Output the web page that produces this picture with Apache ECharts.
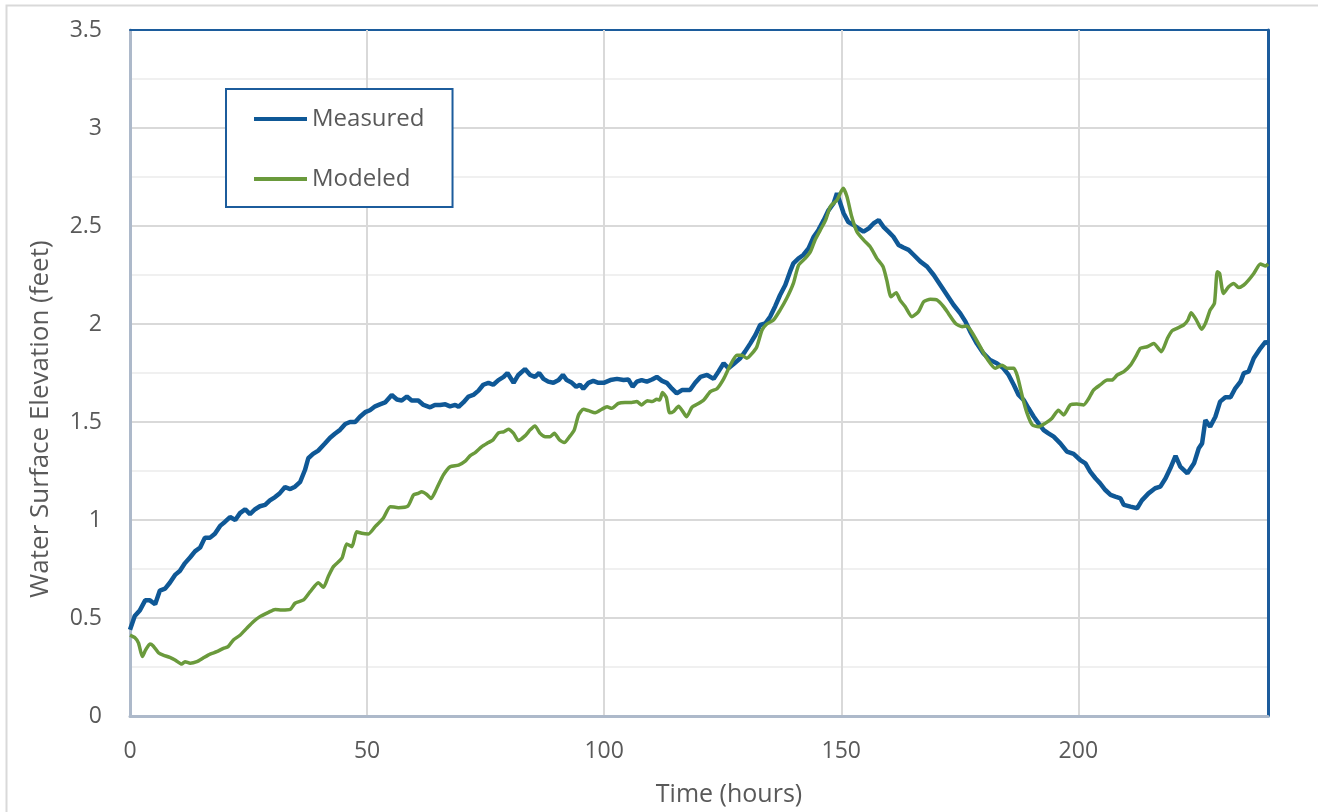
<!DOCTYPE html>
<html>
<head>
<meta charset="utf-8">
<script src="https://cdn.jsdelivr.net/npm/echarts@6/dist/echarts.min.js"></script>
<style>
  html, body { margin: 0; padding: 0; background: #fff; }
  #chart { width: 1318px; height: 812px; }
</style>
</head>
<body>
<div id="chart"></div>
<script>
// values (hours, feet)
const measuredHours = [0, 1, 2.1, 3.2, 4.2, 5.3, 6.3, 7.4, 8.4, 9.5, 10.5, 11.6, 12.7, 13.7, 14.8, 15.8, 16.9, 17.9, 19, 20, 21.1, 22.2, 23.2, 24.3, 25.3, 26.4, 27.4, 28.5, 29.5, 30.6, 31.6, 32.7, 33.8, 34.8, 35.9, 36.9, 37.6, 38.6, 39.7, 41.1, 42.2, 43.2, 44.3, 45.4, 46.4, 47.5, 48.5, 49.6, 50.6, 51.7, 52.7, 53.8, 55.2, 56.3, 57.3, 58.4, 59.4, 60.8, 61.9, 63.3, 64.3, 65.4, 66.5, 67.5, 68.6, 69.3, 70.3, 71.4, 72.4, 73.5, 74.5, 75.6, 76.6, 77.7, 78.8, 79.6, 80.9, 81.9, 83.3, 84.4, 85.4, 86.3, 87.2, 88.2, 89.3, 90.4, 91.3, 92.1, 93.2, 94.1, 94.9, 95.6, 96.7, 97.7, 98.8, 99.9, 101.3, 102.7, 104.1, 105.1, 106, 106.9, 107.9, 109, 110.1, 111.1, 112.2, 113.2, 114.3, 115.3, 116.4, 118.1, 119.2, 120.3, 121.7, 123.1, 124.1, 125.2, 126.2, 127.3, 128.7, 129.7, 130.8, 131.9, 132.9, 134, 135, 136.1, 137.1, 138.2, 139.2, 139.9, 141, 142, 143.1, 144.2, 145.2, 146.3, 147.3, 148.4, 149.1, 149.8, 150.5, 151.5, 152.6, 153.6, 154.7, 155.8, 156.8, 157.9, 158.9, 160, 161, 162.1, 163.1, 164.2, 165.3, 166.7, 168.1, 169.5, 170.9, 172.3, 173.7, 175.1, 176.2, 177.2, 178.6, 180, 181.4, 182.8, 184.2, 185.3, 186.4, 187.4, 188.5, 189.5, 190.6, 191.6, 192.7, 193.7, 194.8, 196.2, 197.6, 199, 200.4, 201.5, 202.5, 203.6, 204.6, 205.7, 206.8, 207.8, 208.9, 209.6, 211, 212.4, 213.4, 214.8, 216.2, 217.3, 218.4, 219.4, 220.5, 221.5, 223, 224.4, 225.4, 226.1, 226.8, 227.8, 228.9, 229.9, 231, 232.1, 233.1, 234.2, 234.9, 235.9, 237, 238.4, 239.5, 240];
const measuredFeet = [0.44, 0.51, 0.54, 0.59, 0.59, 0.57, 0.64, 0.65, 0.68, 0.72, 0.74, 0.78, 0.81, 0.84, 0.86, 0.91, 0.91, 0.93, 0.97, 0.99, 1.015, 1.0, 1.035, 1.055, 1.03, 1.055, 1.07, 1.077, 1.1, 1.117, 1.137, 1.168, 1.158, 1.17, 1.195, 1.255, 1.315, 1.337, 1.354, 1.39, 1.42, 1.44, 1.46, 1.49, 1.5, 1.5, 1.527, 1.55, 1.56, 1.58, 1.59, 1.6, 1.638, 1.615, 1.61, 1.63, 1.61, 1.61, 1.587, 1.575, 1.587, 1.587, 1.59, 1.58, 1.587, 1.578, 1.6, 1.63, 1.638, 1.66, 1.69, 1.7, 1.69, 1.714, 1.73, 1.75, 1.7, 1.74, 1.77, 1.74, 1.73, 1.75, 1.72, 1.706, 1.7, 1.714, 1.74, 1.714, 1.7, 1.68, 1.69, 1.67, 1.7, 1.71, 1.7, 1.7, 1.714, 1.72, 1.714, 1.717, 1.68, 1.706, 1.714, 1.706, 1.717, 1.73, 1.71, 1.7, 1.67, 1.646, 1.663, 1.663, 1.7, 1.73, 1.74, 1.72, 1.757, 1.8, 1.774, 1.796, 1.825, 1.859, 1.9, 1.944, 1.995, 2.003, 2.037, 2.092, 2.148, 2.199, 2.267, 2.309, 2.335, 2.352, 2.386, 2.445, 2.48, 2.53, 2.58, 2.616, 2.667, 2.616, 2.565, 2.52, 2.505, 2.488, 2.471, 2.488, 2.513, 2.53, 2.496, 2.47, 2.445, 2.403, 2.39, 2.378, 2.352, 2.318, 2.293, 2.25, 2.199, 2.148, 2.097, 2.054, 2.012, 1.961, 1.9, 1.85, 1.816, 1.8, 1.774, 1.74, 1.689, 1.638, 1.612, 1.57, 1.527, 1.493, 1.459, 1.442, 1.425, 1.391, 1.349, 1.337, 1.306, 1.289, 1.247, 1.213, 1.187, 1.153, 1.128, 1.119, 1.11, 1.077, 1.068, 1.06, 1.1, 1.136, 1.162, 1.17, 1.213, 1.264, 1.327, 1.272, 1.238, 1.289, 1.366, 1.391, 1.51, 1.476, 1.527, 1.604, 1.626, 1.626, 1.672, 1.706, 1.749, 1.757, 1.825, 1.876, 1.91, 1.9];

const modeledHours = [0, 1, 1.8, 2.6, 3.3, 4.2, 4.9, 6, 7, 8.4, 9.5, 10.9, 11.6, 12.7, 14.1, 15.5, 16.9, 18.3, 19.7, 20.7, 21.8, 23.2, 24.6, 26, 27.4, 29.2, 30.6, 32, 33.8, 34.8, 36.6, 38, 39.7, 40.8, 41.8, 42.9, 44.7, 45.7, 46.8, 47.8, 48.9, 50.3, 51.7, 53.4, 54.9, 56.6, 58.6, 59.8, 60.8, 61.5, 62.6, 63.5, 64.7, 66.1, 67.5, 69.3, 70.7, 71.7, 72.8, 74.2, 75.6, 76.6, 77.7, 78.8, 79.8, 80.9, 81.9, 83.3, 84.4, 85.4, 86.5, 87.6, 88.6, 89.5, 90.6, 91.6, 92.7, 93.7, 94.6, 95.6, 96.7, 98.1, 99.5, 100.6, 101.6, 103, 104.4, 105.8, 106.9, 107.9, 109.1, 110.1, 111.1, 111.7, 112.3, 113.1, 113.8, 114.6, 115.7, 116.6, 117.4, 118.5, 119.6, 121, 122.4, 123.8, 125.2, 126.6, 128, 129, 130.1, 131.2, 132.2, 133.3, 134.3, 135.7, 137.1, 138.5, 139.9, 141, 142.4, 143.5, 144.5, 145.6, 146.7, 147.7, 149.1, 150.4, 151.2, 152.2, 153.3, 154.7, 156.1, 157.5, 158.8, 159.6, 160.5, 161.6, 162.4, 163.5, 164.9, 166.3, 167.4, 168.8, 170.2, 171.6, 172.6, 174.1, 175.5, 176.5, 177.9, 179.3, 180.7, 182.5, 183.9, 185, 186.4, 187.2, 188.2, 189.2, 190.3, 191.6, 193, 194.4, 195.8, 196.9, 198.3, 199.7, 201.1, 202.2, 203.2, 204.6, 206.1, 207.1, 208.2, 209.6, 211, 212.1, 213.1, 214.5, 215.9, 217.5, 218.8, 219.8, 220.8, 222.2, 223.1, 223.8, 224.9, 226, 226.8, 227.8, 228.7, 229.3, 229.8, 230.6, 231.7, 232.8, 233.8, 234.9, 235.9, 237, 238.4, 239.5, 240];
const modeledFeet = [0.413, 0.4, 0.372, 0.303, 0.337, 0.367, 0.357, 0.323, 0.311, 0.299, 0.286, 0.265, 0.277, 0.269, 0.277, 0.297, 0.316, 0.328, 0.345, 0.354, 0.388, 0.412, 0.447, 0.481, 0.507, 0.529, 0.544, 0.541, 0.544, 0.575, 0.592, 0.634, 0.68, 0.657, 0.711, 0.762, 0.805, 0.878, 0.864, 0.94, 0.932, 0.929, 0.966, 1.009, 1.068, 1.063, 1.071, 1.128, 1.136, 1.144, 1.13, 1.11, 1.162, 1.23, 1.272, 1.28, 1.3, 1.327, 1.344, 1.374, 1.395, 1.41, 1.445, 1.45, 1.463, 1.442, 1.405, 1.429, 1.46, 1.48, 1.442, 1.425, 1.425, 1.442, 1.408, 1.395, 1.425, 1.46, 1.536, 1.565, 1.558, 1.547, 1.565, 1.578, 1.57, 1.595, 1.6, 1.6, 1.604, 1.587, 1.609, 1.604, 1.616, 1.612, 1.65, 1.626, 1.547, 1.553, 1.58, 1.553, 1.527, 1.575, 1.59, 1.612, 1.655, 1.67, 1.72, 1.79, 1.84, 1.84, 1.825, 1.85, 1.884, 1.969, 2.0, 2.02, 2.071, 2.131, 2.207, 2.3, 2.335, 2.369, 2.43, 2.48, 2.53, 2.599, 2.633, 2.692, 2.65, 2.548, 2.471, 2.429, 2.394, 2.335, 2.293, 2.224, 2.139, 2.16, 2.122, 2.088, 2.037, 2.063, 2.114, 2.126, 2.122, 2.088, 2.054, 2.003, 1.986, 1.99, 1.944, 1.884, 1.825, 1.774, 1.79, 1.774, 1.774, 1.73, 1.629, 1.544, 1.485, 1.476, 1.493, 1.518, 1.56, 1.536, 1.587, 1.592, 1.587, 1.62, 1.663, 1.689, 1.714, 1.714, 1.74, 1.757, 1.79, 1.833, 1.876, 1.884, 1.9, 1.859, 1.927, 1.966, 1.978, 1.995, 2.02, 2.058, 2.02, 1.973, 2.003, 2.071, 2.105, 2.267, 2.258, 2.156, 2.19, 2.207, 2.186, 2.199, 2.224, 2.258, 2.306, 2.296, 2.306];

const seriesNames = ['Measured', 'Modeled'];
const xTicks = [0, 50, 100, 150, 200];

const toPairs = (xs, ys) => xs.map((x, i) => [x, ys[i]]);

const FONT = '"Open Sans", "Noto Sans", sans-serif';
const TEXT = '#595959';
const BLUE = '#0f5896';
const GREEN = '#6a9a3c';
const FRAME = '#1c5c9c';

const chart = echarts.init(document.getElementById('chart'), null, { renderer: 'canvas' });

chart.setOption({
  animation: false,
  backgroundColor: '#fff',
  textStyle: { fontFamily: FONT },
  graphic: [
    {
      type: 'rect',
      silent: true,
      z: -10,
      shape: { x: 6.5, y: 5.5, width: 1330, height: 830 },
      style: { fill: 'none', stroke: '#d9d9d9', lineWidth: 2 },
    },
  ],
  grid: {
    left: 130,
    right: 50,
    top: 30,
    bottom: 96,
    show: false,
  },
  legend: {
    left: 226,
    top: 89,
    orient: 'vertical',
    data: seriesNames.map((n) => ({ name: n, icon: 'rect' })),
    itemWidth: 53,
    itemHeight: 4,
    itemGap: 36,
    padding: [18, 28, 16, 28],
    borderColor: FRAME,
    borderWidth: 2,
    backgroundColor: '#fff',
    textStyle: { fontSize: 24, color: TEXT, fontFamily: FONT },
  },
  xAxis: [
    {
      type: 'value',
      min: 0,
      max: 240,
      interval: 50,
      name: 'Time (hours)',
      nameLocation: 'middle',
      nameGap: 66,
      nameTextStyle: { fontSize: 25, color: TEXT, fontFamily: FONT, padding: [0, 0, 0, 60] },
      axisLine: { show: true, onZero: false, lineStyle: { color: '#adb9ca', width: 3 } },
      axisTick: { show: false },
      axisLabel: {
        fontSize: 23,
        color: TEXT,
        margin: 24,
        showMaxLabel: false,
        formatter: (v) => (xTicks.includes(v) ? String(v) : ''),
      },
      splitLine: { show: true, showMinLine: false, showMaxLine: false, lineStyle: { color: '#d9d9d9', width: 2 } },
      z: 2,
    },
    {
      // top frame line of the plot area
      type: 'value',
      position: 'top',
      min: 0,
      max: 240,
      axisLine: { show: true, onZero: false, lineStyle: { color: FRAME, width: 2 } },
      axisTick: { show: false },
      axisLabel: { show: false },
      splitLine: { show: false },
    },
  ],
  yAxis: [
    {
      type: 'value',
      min: 0,
      max: 3.5,
      interval: 0.5,
      name: 'Water Surface Elevation (feet)',
      nameLocation: 'middle',
      nameGap: 76,
      nameRotate: 90,
      nameTextStyle: { fontSize: 26, color: TEXT, fontFamily: FONT, padding: [0, 92, 0, 0] },
      axisLine: { show: true, lineStyle: { color: '#adb9ca', width: 3 } },
      axisTick: { show: false },
      axisLabel: { fontSize: 23, color: TEXT, margin: 28 },
      splitLine: { show: true, showMinLine: false, showMaxLine: false, lineStyle: { color: '#d9d9d9', width: 2 } },
      minorTick: { show: false, splitNumber: 2 },
      minorSplitLine: { show: true, lineStyle: { color: '#f0f0f0', width: 2 } },
    },
    {
      // right frame line of the plot area
      type: 'value',
      position: 'right',
      min: 0,
      max: 3.5,
      axisLine: { show: true, onZero: false, lineStyle: { color: FRAME, width: 3 } },
      axisTick: { show: false },
      axisLabel: { show: false },
      splitLine: { show: false },
    },
  ],
  series: [
    {
      name: seriesNames[0],
      type: 'line',
      data: toPairs(measuredHours, measuredFeet),
      showSymbol: false,
      symbol: 'none',
      lineStyle: { color: BLUE, width: 4.5 },
      itemStyle: { color: BLUE },
      z: 3,
    },
    {
      name: seriesNames[1],
      type: 'line',
      data: toPairs(modeledHours, modeledFeet),
      showSymbol: false,
      symbol: 'none',
      smooth: 0.2,
      lineStyle: { color: GREEN, width: 3.5 },
      itemStyle: { color: GREEN },
      z: 4,
    },
  ],
});
</script>
</body>
</html>
